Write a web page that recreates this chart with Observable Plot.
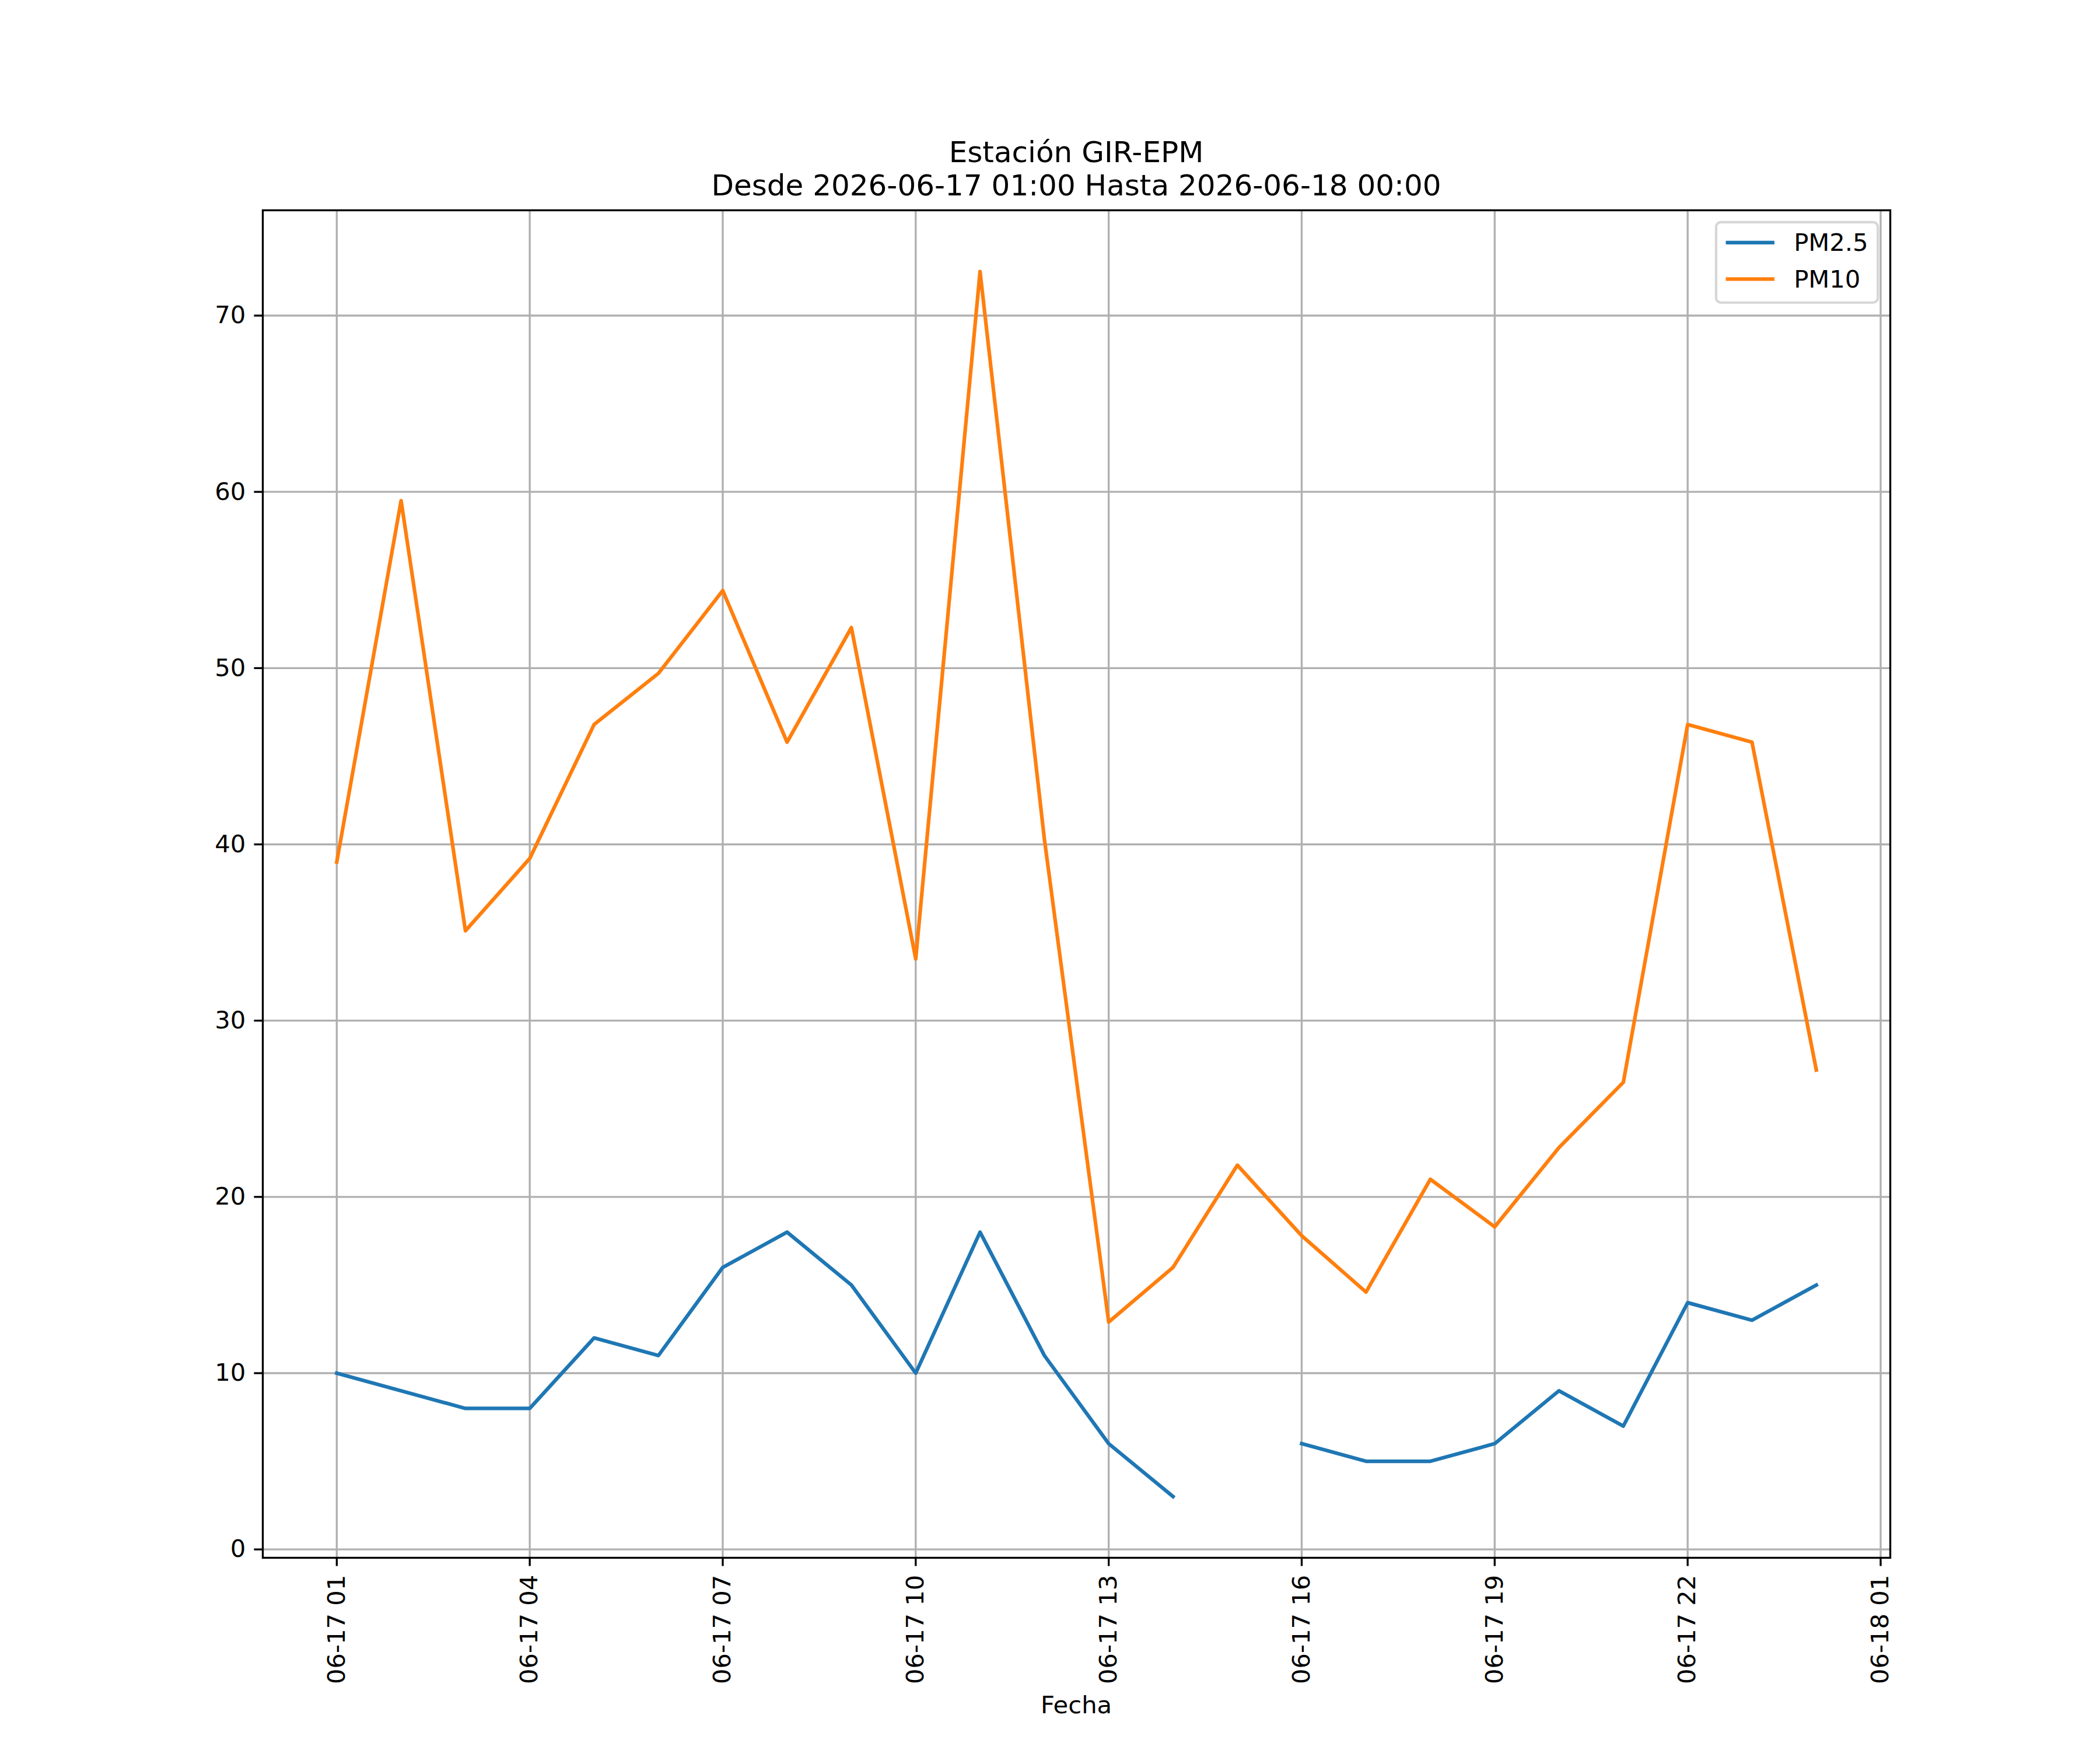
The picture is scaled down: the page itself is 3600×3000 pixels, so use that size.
<!DOCTYPE html>
<html><head><meta charset="utf-8">
<script src="https://cdn.jsdelivr.net/npm/d3@7"></script>
<script src="https://cdn.jsdelivr.net/npm/@observablehq/plot@0.6"></script>
<style>body{margin:0;background:#fff}</style>
</head><body><div id="chart"></div>
<script>
// ---- data ----
const times = [
  "2026-06-17T01:00Z","2026-06-17T02:00Z","2026-06-17T03:00Z","2026-06-17T04:00Z",
  "2026-06-17T05:00Z","2026-06-17T06:00Z","2026-06-17T07:00Z","2026-06-17T08:00Z",
  "2026-06-17T09:00Z","2026-06-17T10:00Z","2026-06-17T11:00Z","2026-06-17T12:00Z",
  "2026-06-17T13:00Z","2026-06-17T14:00Z","2026-06-17T15:00Z","2026-06-17T16:00Z",
  "2026-06-17T17:00Z","2026-06-17T18:00Z","2026-06-17T19:00Z","2026-06-17T20:00Z",
  "2026-06-17T21:00Z","2026-06-17T22:00Z","2026-06-17T23:00Z","2026-06-18T00:00Z"
];
const pm25 = [10, 9, 8, 8, 12, 11, 16, 18, 15, 10, 18, 11, 6, 3, null, 6, 5, 5, 6, 9, 7, 14, 13, 15];
const pm10 = [39.0, 59.5, 35.1, 39.2, 46.8, 49.7, 54.4, 45.8, 52.3, 33.5, 72.5, 40.3, 12.9, 16.0, 21.8, 17.8, 14.6, 21.0, 18.3, 22.8, 26.5, 46.8, 45.8, 27.2];
const seriesNames = ["PM2.5", "PM10"];
const seriesColors = ["#1f77b4", "#ff7f0e"];
const tickTimes = [
  "2026-06-17T01:00Z","2026-06-17T04:00Z","2026-06-17T07:00Z","2026-06-17T10:00Z",
  "2026-06-17T13:00Z","2026-06-17T16:00Z","2026-06-17T19:00Z","2026-06-17T22:00Z",
  "2026-06-18T01:00Z"
];
const yTicks = [0, 10, 20, 30, 40, 50, 60, 70];
const titleLines = ["Estación GIR-EPM", "Desde 2026-06-17 01:00 Hasta 2026-06-18 00:00"];
const xLabel = "Fecha";

(function () {
  // ---- layout ----
  const W = 3600, H = 3000, mL = 450, mR = 360, mT = 360, mB = 330;
  const pt = 300 / 72;
  const fs = 10 * pt;
  const font = "DejaVu Sans";

  const rows = [];
  const series = [pm25, pm10];
  times.forEach((t, i) => {
    series.forEach((arr, k) => rows.push({t: new Date(t), v: arr[i], s: seriesNames[k]}));
  });

  const tDates = times.map(t => new Date(t));
  const [t0, t1] = d3.extent(tDates);
  const tPad = (t1 - t0) * 0.05;
  const allVals = pm25.concat(pm10).filter(v => v != null);
  const [v0, v1] = d3.extent(allVals);
  const vPad = (v1 - v0) * 0.05;
  const tickDates = tickTimes.map(t => new Date(t));

  const chart = Plot.plot({
    width: W, height: H,
    marginLeft: mL, marginRight: mR, marginTop: mT, marginBottom: mB,
    style: {fontFamily: font, fontSize: fs + "px", color: "black", background: "white"},
    x: {type: "utc", domain: [new Date(+t0 - tPad), new Date(+t1 + tPad)], label: null},
    y: {domain: [v0 - vPad, v1 + vPad], label: null},
    color: {domain: seriesNames, range: seriesColors},
    marks: [
      Plot.gridX(tickDates, {stroke: "#b0b0b0", strokeOpacity: 1, strokeWidth: 0.8 * pt}),
      Plot.gridY(yTicks, {stroke: "#b0b0b0", strokeOpacity: 1, strokeWidth: 0.8 * pt}),
      Plot.line(rows, {x: "t", y: "v", z: "s", stroke: "s", strokeWidth: 1.5 * pt,
        strokeLinejoin: "round", strokeLinecap: "square"}),
      Plot.frame({stroke: "black", strokeWidth: 0.8 * pt}),
      Plot.axisX(tickDates, {tickFormat: d3.utcFormat("%m-%d %H"), tickRotate: -90,
        tickSize: 3.5 * pt, tickPadding: 3.5 * pt, strokeWidth: 0.8 * pt, fontSize: fs, label: null}),
      Plot.axisY(yTicks, {tickSize: 3.5 * pt, tickPadding: 3.5 * pt, strokeWidth: 0.8 * pt,
        fontSize: fs, label: null})
    ]
  });
  document.getElementById("chart").appendChild(chart);

  const svg = d3.select(chart);
  const cx = mL + (W - mL - mR) / 2;

  // title
  const tfs = 12 * pt;
  svg.append("text").attr("x", cx).attr("y", mT - 6 * pt - tfs * 1.15)
    .attr("text-anchor", "middle").attr("font-family", font).attr("font-size", tfs)
    .attr("fill", "black").text(titleLines[0]);
  svg.append("text").attr("x", cx).attr("y", mT - 6 * pt)
    .attr("text-anchor", "middle").attr("font-family", font).attr("font-size", tfs)
    .attr("fill", "black").text(titleLines[1]);

  // x label
  svg.append("text").attr("x", cx).attr("y", 2937)
    .attr("text-anchor", "middle").attr("font-family", font).attr("font-size", fs)
    .attr("fill", "black").text(xLabel);

  // legend
  const lg = svg.append("g").attr("text-anchor", "start");
  const box = lg.append("rect");
  const lgRight = W - mR - 0.5 * fs;
  const lgTop = mT + 0.5 * fs;
  const entries = seriesNames.map((name, i) => ({name, y: lgTop + 0.84 * fs + i * 1.5 * fs, color: seriesColors[i]}));
  let maxW = 0;
  const textEls = entries.map(d => {
    const el = lg.append("text").attr("font-family", font).attr("font-size", fs)
      .attr("text-anchor", "start")
      .attr("fill", "black").attr("y", d.y + 0.34 * fs).text(d.name);
    maxW = Math.max(maxW, el.node().getComputedTextLength());
    return el;
  });
  const boxW = 0.4 * fs + 2 * fs + 0.8 * fs + maxW + 0.4 * fs;
  const lgLeft = lgRight - boxW;
  box.attr("x", lgLeft).attr("y", lgTop).attr("width", boxW).attr("height", 3.31 * fs)
    .attr("rx", 0.2 * fs).attr("ry", 0.2 * fs)
    .attr("fill", "white").attr("fill-opacity", 0.8)
    .attr("stroke", "#cccccc").attr("stroke-opacity", 0.8).attr("stroke-width", 1.0 * pt);
  entries.forEach((d, i) => {
    lg.append("line").attr("x1", lgLeft + 0.4 * fs).attr("x2", lgLeft + 2.4 * fs)
      .attr("y1", d.y).attr("y2", d.y).attr("stroke", d.color).attr("stroke-width", 1.5 * pt)
      .attr("stroke-linecap", "butt");
    textEls[i].attr("x", lgLeft + 3.2 * fs);
  });
})();
</script>
</body></html>
